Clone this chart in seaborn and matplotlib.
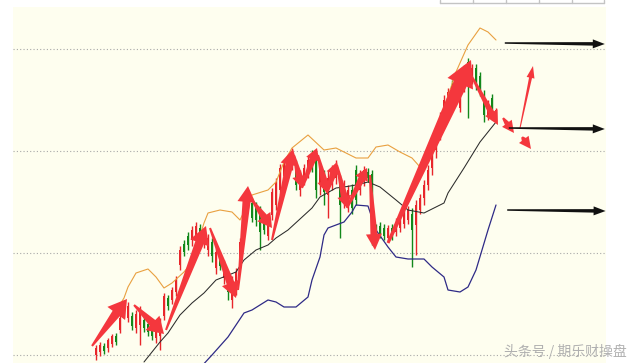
import matplotlib
matplotlib.use('Agg')
import matplotlib.pyplot as plt
from matplotlib.patches import Polygon
from matplotlib.lines import Line2D
import numpy as np
import pandas as pd
import seaborn as sns

# daily candles (price units), one per trading day
opens = [8, 11, 17, 15, 19, 27, 33, 48, 45, 47, 35, 38, 43, 39, 35, 25, 27, 47, 65, 63,
         71, 98, 119, 127, 123, 127, 135, 121, 113, 121, 95, 107, 85, 87, 63, 73, 101, 135, 159, 160,
         157, 151, 141, 127, 148, 158, 173, 187, 203, 198, 198, 173, 183, 191, 207, 203, 178, 188, 168, 178,
         185, 185, 163, 158, 173, 193, 173, 181, 191, 189, 135, 137, 135, 125, 135, 131, 135, 139, 143, 149,
         138, 153, 165, 178, 195, 213, 228, 248, 259, 278, 271, 255, 275, 301, 283, 295, 287, 268, 247, 265,
         245]
highs = [18, 21, 20, 25, 29, 30, 48, 63, 61, 51, 53, 57, 47, 43, 38, 36, 45, 70, 68, 76,
         87, 117, 123, 131, 137, 141, 139, 135, 129, 125, 115, 111, 103, 91, 87, 95, 125, 163, 173, 165,
         161, 157, 145, 145, 175, 185, 199, 203, 207, 215, 203, 193, 199, 207, 213, 211, 199, 193, 193, 198,
         203, 188, 183, 178, 179, 198, 193, 197, 195, 193, 139, 141, 139, 138, 139, 145, 149, 153, 157, 155,
         163, 169, 183, 198, 218, 235, 251, 268, 275, 283, 287, 277, 298, 305, 299, 299, 291, 273, 263, 269,
         255]
lows = [3, 7, 9, 11, 16, 18, 30, 45, 41, 33, 30, 18, 31, 27, 23, 20, 13, 43, 53, 59,
        67, 93, 107, 113, 117, 123, 121, 115, 107, 101, 89, 93, 79, 63, 55, 68, 95, 131, 155, 141,
        137, 113, 129, 123, 143, 153, 168, 183, 185, 193, 173, 167, 178, 185, 191, 165, 168, 158, 145, 173,
        179, 125, 155, 151, 149, 158, 168, 177, 181, 118, 121, 125, 123, 121, 123, 127, 131, 135, 139, 96,
        108, 149, 158, 173, 188, 205, 223, 243, 255, 261, 267, 251, 271, 245, 279, 273, 267, 241, 243, 243,
        241]
closes = [15, 18, 12, 23, 27, 21, 45, 60, 57, 37, 49, 53, 35, 31, 27, 33, 41, 67, 57, 73,
          83, 113, 111, 118, 133, 137, 127, 131, 125, 107, 111, 97, 98, 71, 81, 91, 121, 158, 169, 145,
          143, 131, 133, 141, 171, 181, 195, 199, 191, 211, 178, 188, 195, 203, 195, 173, 195, 171, 185, 193,
          198, 158, 178, 173, 155, 163, 188, 193, 185, 131, 127, 129, 127, 135, 127, 141, 145, 149, 153, 133,
          158, 165, 178, 193, 213, 228, 245, 263, 271, 265, 283, 273, 293, 283, 295, 279, 271, 248, 259, 247,
          253]

# bollinger bands (day index, price)
upper_idx = [3, 5, 7, 8, 10, 13, 15, 17, 19, 22, 24, 27, 28, 31, 34, 36, 39, 43, 45, 47,
             49, 53, 57, 60, 65, 68, 70, 73, 76, 79, 81, 86, 90, 93, 96, 98, 100]
upper_val = [38, 52, 65, 76, 90, 94, 86, 75, 80, 91, 101, 140, 150, 153, 151, 143, 168, 173, 181, 201,
             215, 228, 213, 215, 205, 205, 216, 218, 211, 205, 196, 243, 291, 318, 335, 331, 323]
middle_idx = [12, 13, 16, 18, 21, 24, 27, 30, 35, 37, 40, 43, 45, 48, 54, 56, 60, 62, 65, 68,
              71, 75, 78, 82, 87, 88, 92, 96, 100]
middle_val = [1, 6, 21, 30, 48, 60, 70, 83, 91, 103, 113, 118, 125, 133, 155, 166, 175, 176, 178, 181,
              176, 163, 153, 150, 160, 170, 195, 221, 241]
lower_idx = [26, 29, 33, 37, 39, 43, 45, 47, 50, 53, 54, 56, 57, 58, 62, 64, 65, 68, 69, 70,
             73, 75, 78, 82, 84, 87, 88, 91, 93, 95, 98, 100]
lower_val = [-5, 8, 26, 50, 53, 63, 61, 56, 56, 66, 83, 106, 128, 135, 141, 151, 158, 157, 145, 133,
             116, 106, 104, 104, 96, 86, 73, 71, 76, 93, 133, 158]

grid_levels = [8, 110, 212, 314]

# hand-drawn arrows (day index, price)
red_from = [(-1, 17), (9.5, 58), (17.5, 33), (28.5, 135), (35.5, 73), (39, 163), (44, 123),
            (49.5, 208), (51.5, 175), (55.5, 208), (57.75, 170), (60.25, 198), (62.75, 155),
            (68.5, 188), (73, 120), (93.75, 288), (101.75, 245), (106, 235), (106.5, 226)]
red_to = [(7.75, 64), (17, 29), (27.5, 137), (35, 65), (38, 177), (44, 135), (49.25, 214),
          (51.5, 175), (55.25, 215), (57.75, 170), (60.25, 201), (62.75, 155), (67.75, 195),
          (69.75, 113), (93.75, 303), (100.5, 238), (104.5, 230), (109.25, 297), (108.75, 214)]
black_from = [(102.2, 320), (103.2, 235), (102.8, 153)]
black_to = [(127.2, 319), (127.2, 234), (127.4, 152)]

watermark = '头条号 / 期乐财操盘'

# arrow shapes in pixels: tail width, body width, head width, head length
red_sizes = [(2, 9, 22, 18), (2, 8, 20, 16), (2, 9, 20, 18), (2, 8, 18, 16), (2, 8, 18, 16),
             (2, 7, 16, 14), (2, 8, 18, 16), (2, 7, 14, 12), (2, 7, 14, 12), (2, 7, 14, 12),
             (2, 7, 14, 12), (2, 7, 14, 12), (2, 7, 14, 12), (2, 7, 16, 16), (3, 14, 28, 26),
             (2, 6, 14, 14), (2, 5, 12, 12), (1, 3, 8, 12), (2, 5, 12, 12)]
black_size = (1.5, 3.5, 9, 12)

sns.set_style('white')
plt.rcParams['font.family'] = ['Noto Sans CJK SC', 'DejaVu Sans']

W, H = 634, 363
fig = plt.figure(figsize=(W / 100, H / 100), dpi=100)
fig.patch.set_facecolor('white')
ax = fig.add_axes([13 / W, 0, (606 - 13) / W, (H - 7) / H])
ax.set_facecolor('#FEFEEF')
ax.set_xlim((13 - 96) / 4, (606 - 96) / 4)
ax.set_ylim(0, 356)
for s in ax.spines.values():
    s.set_visible(False)
ax.set_xticks([])
ax.set_yticks(grid_levels)
ax.set_yticklabels([])
ax.tick_params(length=0)
ax.grid(axis='y', color='#a8a8a8', linestyle=(0, (1, 2)), linewidth=0.8)
ax.set_axisbelow(True)

df = pd.DataFrame({'open': opens, 'high': highs, 'low': lows, 'close': closes})
df['day'] = np.arange(len(df))
cols = ['#E8262B' if c >= o else '#12881A' for o, c in zip(df['open'], df['close'])]

ax.vlines(df['day'], df['low'], df['high'], colors=cols, linewidth=1, zorder=2)
ax.bar(df['day'], (df['close'] - df['open']).abs().clip(lower=1),
       bottom=df[['open', 'close']].min(axis=1), width=0.55, color=cols, linewidth=0, zorder=2)

sns.lineplot(x=upper_idx, y=upper_val, ax=ax, color='#E9A040', linewidth=0.8, zorder=3)
sns.lineplot(x=middle_idx, y=middle_val, ax=ax, color='#2b2b2b', linewidth=0.75, zorder=3)
sns.lineplot(x=lower_idx, y=lower_val, ax=ax, color='#2E2A86', linewidth=0.9, zorder=3)


def wedge_arrow(start, end, size, color):
    w0, w1, hw, hl = size
    p0 = ax.transData.transform(start)
    p1 = ax.transData.transform(end)
    d = p1 - p0
    u = d / np.hypot(*d)
    n = np.array([-u[1], u[0]])
    base = p1 - u * hl
    pts = [p0 + n * w0 / 2, base + n * w1 / 2, base + n * hw / 2, p1,
           base - n * hw / 2, base - n * w1 / 2, p0 - n * w0 / 2]
    pts = ax.transData.inverted().transform(np.array(pts))
    ax.add_patch(Polygon(pts, closed=True, facecolor=color, edgecolor='none', zorder=5))


for a, b, sz in zip(red_from, red_to, red_sizes):
    wedge_arrow(a, b, sz, '#F4373D')
for a, b in zip(black_from, black_to):
    wedge_arrow(a, b, black_size, '#111111')

# fragment of a table at the very top
for xp in [440, 473, 506, 539, 572, 604]:
    fig.add_artist(Line2D([xp / W, xp / W], [1, 1 - 3 / H], color='#c4c4c4', linewidth=1))
fig.add_artist(Line2D([440 / W, 604 / W], [1 - 3 / H, 1 - 3 / H], color='#c4c4c4', linewidth=1))

fig.text(565 / W, 12 / H, watermark, ha='center', va='center', fontsize=10, color='#b0b0b0')

fig.savefig('out.png', dpi=100)
